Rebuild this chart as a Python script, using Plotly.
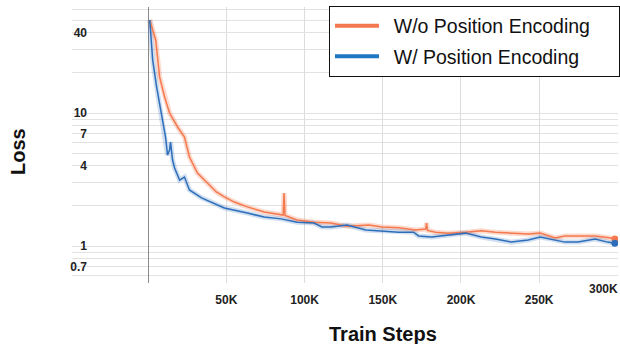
import plotly.graph_objects as go

# ---- data ----
steps_wo = [1000, 4800, 7300, 10500, 13700, 18800, 23200, 26400, 31500, 37900, 43600,
            48700, 55100, 63400, 74200, 86300, 86900, 87500, 95200, 106000, 116900,
            127100, 141100, 149400, 160200, 171000, 177400, 178000, 178600, 183700,
            192000, 202900, 213000, 222000, 232200, 243000, 250600, 260200, 266500,
            274800, 285700, 295800, 298400]
loss_wo = [50.0, 35.4, 18.7, 13.2, 10.0, 7.85, 6.6, 4.67, 3.54, 2.98, 2.55,
           2.34, 2.14, 1.97, 1.80, 1.71, 2.5, 1.70, 1.57, 1.51, 1.49,
           1.41, 1.44, 1.39, 1.37, 1.32, 1.34, 1.49, 1.31, 1.27,
           1.25, 1.27, 1.30, 1.27, 1.25, 1.23, 1.25, 1.15, 1.19,
           1.19, 1.19, 1.15, 1.13]

steps_w = [1000, 2900, 5400, 8600, 11100, 12400, 13700, 14300, 15600, 16900, 20100,
           23200, 26400, 34100, 40400, 48700, 63400, 74200, 85000, 95200, 106000,
           111100, 116900, 127100, 139200, 149400, 160200, 169700, 172900, 181200,
           192000, 202900, 213000, 222000, 232200, 243000, 250600, 257600, 266500,
           274800, 285700, 293900, 298400]
loss_w = [50.0, 25.0, 15.7, 9.33, 6.6, 4.83, 5.27, 6.05, 4.43, 3.86, 3.13,
          3.30, 2.64, 2.30, 2.14, 1.93, 1.77, 1.65, 1.60, 1.51, 1.49,
          1.39, 1.39, 1.44, 1.32, 1.30, 1.27, 1.27, 1.19, 1.17,
          1.21, 1.25, 1.17, 1.13, 1.07, 1.11, 1.17, 1.13, 1.07,
          1.07, 1.13, 1.07, 1.05]

series_names = ["W/o Position Encoding", "W/ Position Encoding"]
x_tick_vals = [50000, 100000, 150000, 200000, 250000]
x_tick_text = ["50K", "100K", "150K", "200K", "250K"]
x_last_label = "300K"
y_tick_vals = [0.7, 1, 4, 7, 10, 40]
y_tick_text = ["0.7", "1", "4", "7", "10", "40"]
y_grid_vals = [0.6, 0.7, 0.8, 0.9, 1, 2, 3, 4, 5, 6, 7, 8, 9, 10, 20, 30, 40, 50, 60]

ORANGE = "#F4794F"
BLUE = "#2D6EBA"
ORANGE_BAND = "rgba(244,121,79,0.28)"
BLUE_BAND = "rgba(45,110,186,0.22)"
FONT = "Arial, Liberation Sans, sans-serif"

fig = go.Figure()

for xs, ys, band in [(steps_wo, loss_wo, ORANGE_BAND), (steps_w, loss_w, BLUE_BAND)]:
    fig.add_trace(go.Scatter(x=xs, y=ys, mode="lines", showlegend=False,
                             line=dict(color=band, width=5), hoverinfo="skip"))
for xs, ys, col in [(steps_wo, loss_wo, ORANGE), (steps_w, loss_w, BLUE)]:
    fig.add_trace(go.Scatter(x=xs, y=ys, mode="lines", showlegend=False,
                             line=dict(color=col, width=1.5)))
    fig.add_trace(go.Scatter(x=[xs[-1]], y=[ys[-1]], mode="markers", showlegend=False,
                             marker=dict(color=col, size=7)))

# legend entries
for name, col, grp in [(series_names[0], ORANGE, "a"), (series_names[1], "#1E78C2", "b")]:
    fig.add_trace(go.Scatter(x=[None], y=[None], mode="lines",
                             name="\u2002" + name + "\u2002\u2002\u2009",
                             legendgroup=grp, line=dict(color=col, width=4)))

fig.add_annotation(x=300000, xref="x", y=0, yref="paper", yshift=-15, xshift=3,
                   text="<b>" + x_last_label + "</b>", showarrow=False, xanchor="right",
                   font=dict(family=FONT, size=12, color="#222222"))
fig.add_annotation(x=150000, xref="x", y=0, yref="paper", yshift=-64,
                   text="<b>Train Steps</b>", showarrow=False,
                   font=dict(family=FONT, size=20, color="#111111"))
fig.add_annotation(x=0, xref="paper", xshift=-54, xanchor="center",
                   y=0.5, yref="paper", yshift=-7, yanchor="middle",
                   text="<b>Loss</b>", showarrow=False, textangle=-90,
                   font=dict(family=FONT, size=20, color="#111111"))

fig.update_layout(
    width=620, height=344,
    margin=dict(l=72, r=0, t=7, b=61),
    paper_bgcolor="white", plot_bgcolor="white",
    font=dict(family=FONT, color="#222222"),
    legend=dict(x=0.4708, y=1.005, xanchor="left", yanchor="top",
                bgcolor="white", bordercolor="#111111", borderwidth=1,
                font=dict(family=FONT, size=19.5, color="#111111"),
                itemwidth=44, tracegroupgap=2),
    xaxis=dict(range=[-48700, 300400], tickvals=x_tick_vals, ticktext=x_tick_text,
               showgrid=True, gridcolor="#DCDCDC", gridwidth=1,
               zeroline=True, zerolinecolor="#8A8A8A", zerolinewidth=1,
               ticks="outside", ticklen=6, tickcolor="rgba(0,0,0,0)",
               tickfont=dict(family=FONT, size=12, color="#222222", weight="bold"),
               showline=False),
    yaxis=dict(type="log", range=[-0.278, 1.797], tickvals=y_tick_vals, ticktext=y_tick_text,
               showgrid=True, gridcolor="#E2E2E2", gridwidth=1.2,
               minor=dict(tickvals=y_grid_vals, showgrid=True, gridcolor="#E2E2E2",
                          gridwidth=1.2, ticks=""),
               zeroline=False, showline=False,
               ticks="", ticklabelstandoff=-16,
               tickfont=dict(family=FONT, size=12, color="#222222", weight="bold"),
               automargin=False),
)

fig.write_html("out.html", config={"displayModeBar": False},
               post_script="document.body.style.margin='0px';")
